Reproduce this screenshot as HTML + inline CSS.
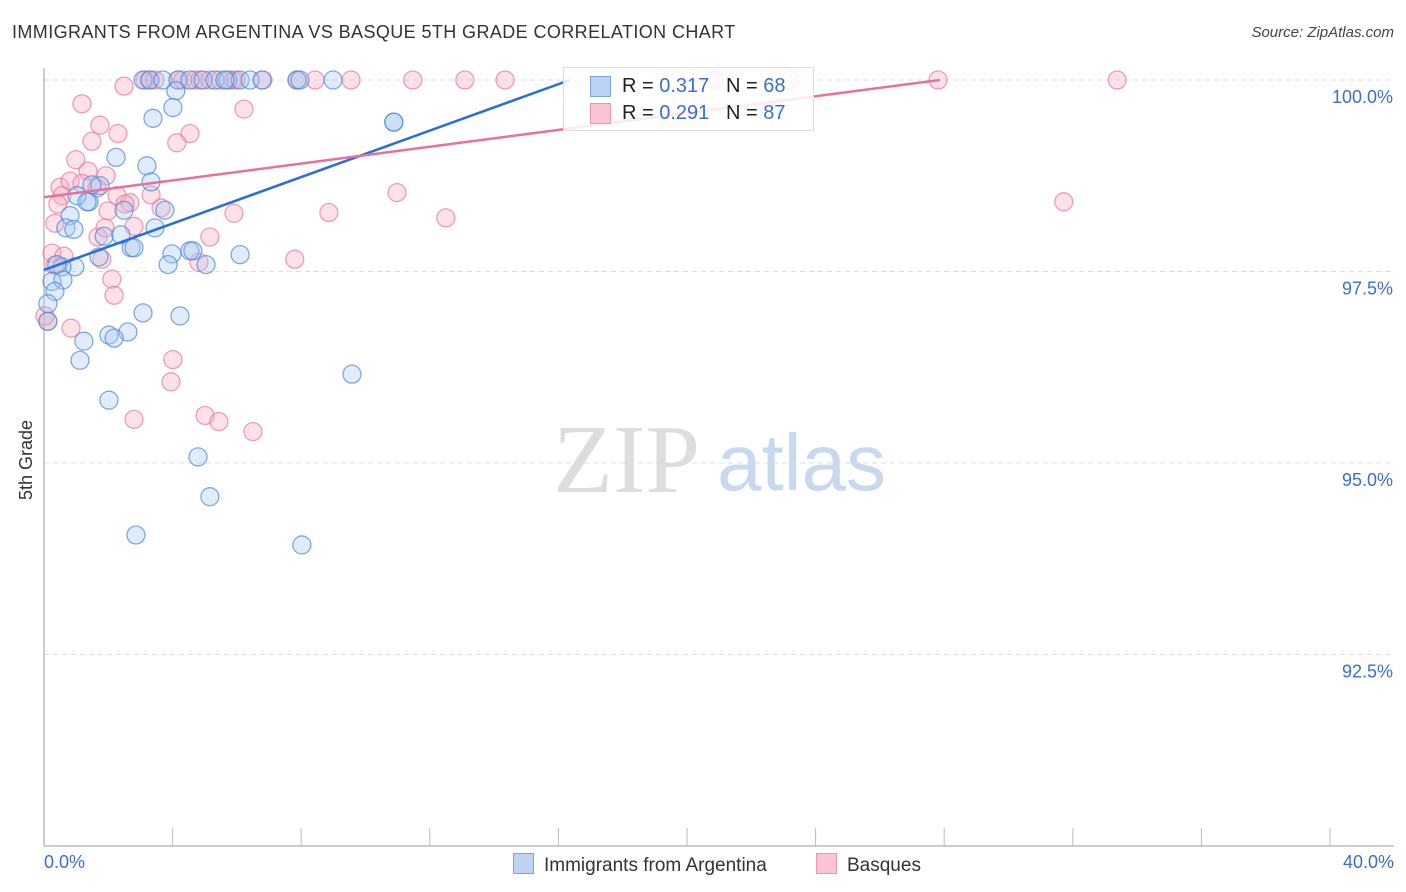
<!DOCTYPE html>
<html><head><meta charset="utf-8"><style>
body{margin:0;background:#fff;font-family:"Liberation Sans",sans-serif;}
#wrap{position:relative;width:1406px;height:892px;overflow:hidden;}
.title{position:absolute;left:12px;top:22px;font-size:18px;letter-spacing:0.4px;color:#333;}
.src{position:absolute;right:12px;top:24px;font-size:15px;color:#444;font-style:italic;}
</style></head><body>
<div id="wrap">
<div class="title">IMMIGRANTS FROM ARGENTINA VS BASQUE 5TH GRADE CORRELATION CHART</div>
<div class="src">Source: ZipAtlas.com</div>
<svg id="svg" width="1406" height="892" style="position:absolute;left:0;top:0"></svg>
</div>
<script>
const blueX=[3.08,3.3,3.7,4.17,4.54,4.95,5.32,5.72,6.1,6.41,6.78,7.87,7.96,8.99,5.63,4.1,4.01,3.39,10.88,10.88,2.24,3.2,3.33,1.74,1.4,1.03,0.81,3.76,2.49,0.68,0.93,1.87,2.39,3.45,2.71,2.8,4.54,4.63,6.1,1.71,3.98,3.86,5.04,0.96,0.56,0.4,0.25,0.59,0.34,0.12,0.12,3.08,4.23,2.61,2.02,2.18,1.24,1.12,9.58,2.02,4.79,5.16,2.86,8.02,1.49,1.34];
const blueY=[100,100,100,100,100,100,100,100,100,100,100,100,100,100,100,99.86,99.64,99.5,99.45,99.45,98.99,98.88,98.67,98.62,98.41,98.49,98.23,98.3,98.3,98.07,98.05,97.96,97.98,98.07,97.81,97.81,97.77,97.77,97.72,97.69,97.73,97.59,97.59,97.56,97.56,97.59,97.37,97.39,97.24,97.08,96.85,96.96,96.92,96.71,96.67,96.63,96.59,96.34,96.16,95.82,95.08,94.56,94.06,93.93,98.63,98.41];
const pinkX=[3.14,3.27,4.17,4.32,4.7,4.85,5.16,5.47,5.88,5.97,6.81,7.87,8.43,9.55,11.47,13.09,14.34,20.84,23.2,27.81,33.38,3.45,2.49,1.18,6.22,1.74,2.3,4.54,1.49,4.13,0.99,1.37,1.93,0.5,0.81,1.18,1.65,0.56,2.27,3.33,2.67,0.43,1.99,5.91,8.86,10.98,12.5,31.72,2.52,3.64,0.34,1.68,1.9,2.8,5.16,0.25,0.62,0.34,1.8,4.82,7.8,2.11,2.18,0.84,4.01,3.95,5.01,5.44,2.8,6.5,0.12,0.03];
const pinkY=[100,100,100,100,100,100,100,100,100,100,100,100,100,100,100,100,100,100,100,100,100,100,99.92,99.69,99.62,99.41,99.3,99.3,99.2,99.18,98.96,98.81,98.75,98.6,98.68,98.65,98.59,98.49,98.49,98.5,98.4,98.38,98.29,98.26,98.27,98.53,98.2,98.41,98.38,98.33,98.13,97.95,98.07,98.09,97.95,97.74,97.7,97.58,97.66,97.62,97.66,97.4,97.19,96.76,96.35,96.06,95.62,95.54,95.57,95.41,96.85,96.92];
const blueLine=[97.52,0.1516];
const pinkLine=[98.47,0.0549];
const yTicks=[100,97.5,95,92.5];
const yTickLabels=["100.0%","97.5%","95.0%","92.5%"];
const xTicks=[0,4,8,12,16,20,24,28,32,36,40];
const svg=document.getElementById('svg');
const NS='http://www.w3.org/2000/svg';
const X=v=>44+v/40*1286;
const Y=v=>80+(100-v)/2.5*191.5;
function mk(t,a,p){const e=document.createElementNS(NS,t);for(const k in a)e.setAttribute(k,a[k]);(p||svg).appendChild(e);return e;}
let w=mk('text',{x:553,y:492,'font-size':98,'font-family':'Liberation Serif, serif',fill:'#ddd'});w.textContent='ZIP';


w=mk('text',{x:717,y:490,'font-size':80,'font-family':'Liberation Sans, sans-serif',fill:'#c8d8ee'});w.textContent='atlas';


yTicks.forEach((t,i)=>{
 const g=mk('line',{x1:44,x2:1394,y1:Y(t),y2:Y(t),stroke:'#ddd','stroke-dasharray':'5,4'});
 
 
 const l=mk('text',{x:1393,y:Y(t)+23,'text-anchor':'end','font-size':18,fill:'#3a6fd0'});l.textContent=yTickLabels[i];
 
 
});
let ax=mk('line',{x1:44,x2:44,y1:68,y2:846,stroke:'#bbb','stroke-width':1.5});


ax=mk('line',{x1:44,x2:1394,y1:846,y2:846,stroke:'#bbb','stroke-width':1.5});


xTicks.forEach(t=>{const e=mk('line',{x1:X(t),x2:X(t),y1:828,y2:846,stroke:'#bbb'});
 
 });
function pts(xs,ys,fill,stroke,name){xs.forEach((x,i)=>{const c=mk('circle',{cx:X(x),cy:Y(ys[i]),r:9,fill:fill,'fill-opacity':0.35,stroke:stroke,'stroke-opacity':0.7,'stroke-width':1.3});
 
 });}
pts(pinkX,pinkY,'#f7a8c0','#e8789a','basques-point');
pts(blueX,blueY,'#a8c8f2','#4a88dc','argentina-point');
function line(p,xmax,col,name){const x2=Math.min(xmax,(100-p[0])/p[1]);const e=mk('line',{x1:X(0),y1:Y(p[0]),x2:X(x2),y2:Y(p[0]+p[1]*x2),stroke:col,'stroke-width':2.5});
 
 }
line(blueLine,40,'#2a6fd8','argentina-trend-line');
line(pinkLine,40,'#e8709a','basques-trend-line');
</script>
<div style="position:absolute;left:563px;top:67px;width:249px;height:62px;border:1px solid #ddd;background:rgba(255,255,255,0.85);font-size:20px;color:#222">
 <div style="position:absolute;left:26px;top:8px;width:19px;height:19px;background:#bcd4f4;border:1px solid #7aa6e6"></div>
 <div style="position:absolute;left:58px;top:7px">R = <span style="color:#3a6fd0">0.317</span>&nbsp;&nbsp;&nbsp;N = <span style="color:#3a6fd0">68</span></div>
 <div style="position:absolute;left:26px;top:35px;width:19px;height:19px;background:#f9c4d4;border:1px solid #ee94b0"></div>
 <div style="position:absolute;left:58px;top:34px">R = <span style="color:#3a6fd0">0.291</span>&nbsp;&nbsp;&nbsp;N = <span style="color:#3a6fd0">87</span></div>
</div>
<div style="position:absolute;left:44px;top:852px;font-size:18px;color:#3a6fd0">0.0%</div>
<div style="position:absolute;right:12px;top:852px;font-size:18px;color:#3a6fd0">40.0%</div>
<div style="position:absolute;left:513px;top:853px;font-size:19px;color:#333"><span style="display:inline-block;width:19px;height:19px;background:#bcd4f4;border:1px solid #7aa6e6;vertical-align:-3px;margin-right:10px"></span>Immigrants from Argentina</div>
<div style="position:absolute;left:816px;top:853px;font-size:19px;color:#333"><span style="display:inline-block;width:19px;height:19px;background:#f9c4d4;border:1px solid #ee94b0;vertical-align:-3px;margin-right:10px"></span>Basques</div>
<div style="position:absolute;left:16px;top:500px;transform:rotate(-90deg);transform-origin:0 0;font-size:18px;color:#333">5th Grade</div>
</body></html>
